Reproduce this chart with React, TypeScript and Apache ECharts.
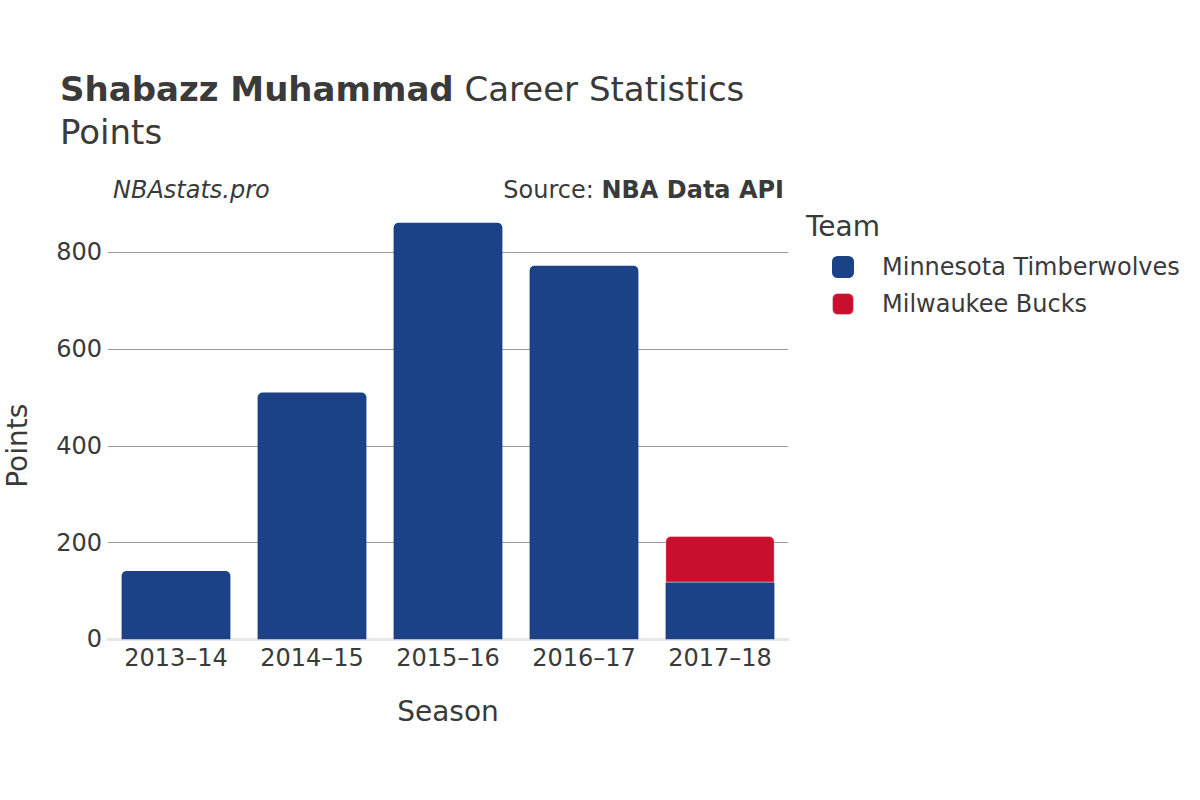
import React, { useEffect, useRef } from "react";
import * as echarts from "echarts";

const seasons = ["2013–14", "2014–15", "2015–16", "2016–17", "2017–18"];
const timberwolves = [141, 510, 861, 772, 118];
const bucks = [null, null, null, null, 95];
const yTicks = { min: 0, max: 800, interval: 200 };
const barMax = 907;

const FONT = "DejaVu Sans";
const TXT = "#3a3a3a";

export default function App() {
  const ref = useRef<HTMLDivElement>(null);
  useEffect(() => {
    const chart = echarts.init(ref.current!, null, { renderer: "svg" });
    const plotLeft = 108;
    const plotWidth = 680;
    const bottomPx = 639.3;
    const topAxis = 252.3;
    const pxPerUnit = (bottomPx - topAxis) / yTicks.max;
    const topBars = bottomPx - barMax * pxPerUnit;
    const bottomGap = 800 - bottomPx;

    const r = [5, 5, 0, 0];
    chart.setOption({
      animation: false,
      backgroundColor: "#ffffff",
      textStyle: { fontFamily: FONT },
      title: [
        {
          left: 55,
          top: 62,
          text: "{b|Shabazz Muhammad}{n| Career Statistics}\n{n|Points}",
          textStyle: {
            fontWeight: "normal",
            rich: {
              b: { fontFamily: FONT, fontWeight: "bold", fontSize: 34, color: TXT, lineHeight: 43 },
              n: { fontFamily: FONT, fontWeight: "normal", fontSize: 34, color: TXT, lineHeight: 43 },
            },
          },
        },
      ],
      graphic: [
        {
          type: "text",
          left: 113,
          top: 178,
          style: { text: "NBAstats.pro", fontFamily: FONT, fontStyle: "italic", fontSize: 24, fill: TXT },
        },
        {
          type: "text",
          right: 1200 - 784,
          top: 178,
          style: {
            text: "{n|Source: }{b|NBA Data API}",
            rich: {
              n: { fontFamily: FONT, fontSize: 24, fill: TXT, color: TXT },
              b: { fontFamily: FONT, fontSize: 24, fontWeight: "bold", fill: TXT, color: TXT },
            },
          },
        },
        {
          type: "text",
          left: 806,
          top: 212,
          style: { text: "Team", fontFamily: FONT, fontSize: 28, fill: TXT },
        },
      ],
      legend: {
        orient: "vertical",
        left: 826,
        top: 250,
        itemWidth: 22,
        itemHeight: 22,
        itemGap: 13,
        icon: "roundRect",
        textStyle: { fontFamily: FONT, fontSize: 24, lineHeight: 22, color: TXT, padding: [0, 0, 0, 23] },
        data: ["Minnesota Timberwolves", "Milwaukee Bucks"],
      },
      grid: [
        { left: plotLeft, width: plotWidth, top: topBars, bottom: bottomGap, containLabel: false, outerBoundsMode: "none" },
        { left: plotLeft, width: plotWidth, top: topAxis, bottom: bottomGap, containLabel: false, outerBoundsMode: "none" },
      ],
      xAxis: [
        { type: "category", gridIndex: 0, data: seasons, show: false },
        {
          type: "category",
          gridIndex: 1,
          data: seasons,
          name: "Season",
          nameLocation: "middle",
          nameGap: 58,
          nameTextStyle: { fontFamily: FONT, fontSize: 28, color: TXT },
          axisLine: { show: true, lineStyle: { color: "#e8e8e8", width: 3 } },
          axisTick: { show: false },
          axisLabel: { interval: 0, hideOverlap: false, fontFamily: FONT, fontSize: 24, color: TXT, margin: 7 },
        },
      ],
      yAxis: [
        { type: "value", gridIndex: 0, min: 0, max: barMax, show: false, splitLine: { show: false } },
        {
          type: "value",
          gridIndex: 1,
          min: yTicks.min,
          max: yTicks.max,
          interval: yTicks.interval,
          name: "Points",
          nameLocation: "middle",
          nameGap: 77,
          nameTextStyle: { fontFamily: FONT, fontSize: 28, color: TXT },
          axisLine: { show: false },
          axisTick: { show: false },
          axisLabel: { fontFamily: FONT, fontSize: 24, color: TXT, margin: 6 },
          splitLine: { show: true, lineStyle: { color: "#9a9a9a", width: 1 } },
        },
      ],
      series: [
        {
          name: "Minnesota Timberwolves",
          type: "bar",
          stack: "pts",
          xAxisIndex: 0,
          yAxisIndex: 0,
          barWidth: "80%",
          itemStyle: { color: "#1b4186" },
          data: timberwolves.map((v, i) => ({
            value: v,
            itemStyle: { borderRadius: bucks[i] ? 0 : r },
          })),
          z: 3,
        },
        {
          name: "Milwaukee Bucks",
          type: "bar",
          stack: "pts",
          xAxisIndex: 0,
          yAxisIndex: 0,
          barWidth: "80%",
          itemStyle: { color: "#c8102e", borderRadius: r, borderColor: "rgba(255,255,255,0.7)", borderWidth: 0.5 },
          data: bucks,
          z: 3,
        },
      ],
    });
    return () => chart.dispose();
  }, []);
  return (
    <div
      ref={ref}
      style={{ position: "absolute", left: 0, top: 0, width: 1200, height: 800 }}
    />
  );
}
